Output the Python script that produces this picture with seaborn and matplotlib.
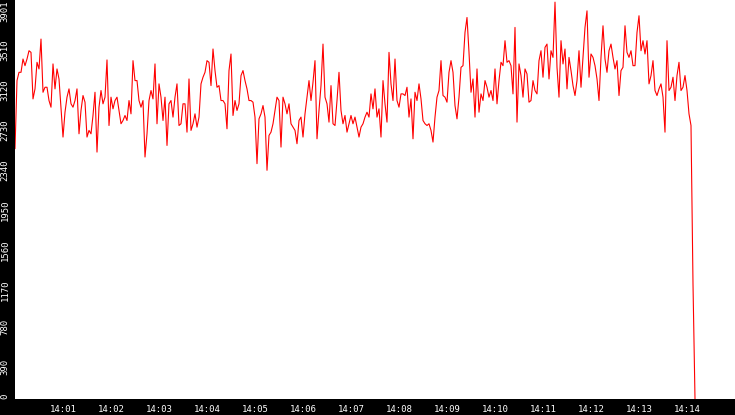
import numpy as np
import pandas as pd
import seaborn as sns
import matplotlib
matplotlib.use('Agg')
import matplotlib.pyplot as plt

sns.set_style('white')

# sampled values, one every 2.5 s starting 14:00:00
vals_a = [2447, 3113, 3194, 3194, 3324, 3259, 3324, 3405, 3389, 2934, 3032, 3292, 3227, 3519, 2999, 3048,
          3048, 2918, 2853, 3276, 3032, 3227, 3129, 2837, 2561, 2804, 2951, 3032, 2886, 2853, 2918, 3032,
          2593, 2821, 2967, 2902, 2561, 2626, 2593, 2772, 2999, 2414, 2853, 3016, 2886, 2951]
vals_b = [3315, 2674, 2951, 2837, 2918, 2951, 2821, 2691, 2723, 2772, 2723, 2918, 2788, 3308, 3113, 3113,
          2918, 2853, 2918, 2366, 2593, 2918, 3016, 2934, 3276, 2691, 3081, 2951, 2723, 2951, 2479, 2886,
          2918, 2756, 2951, 3081, 2674, 2691, 2886, 2886, 2609, 3129, 2626, 2691, 2788]
vals_c = [2658, 2756, 3081, 3146, 3194, 3308, 3292, 3064, 3422, 3211, 3048, 3064, 2918, 2918, 2886, 2642,
          3211, 3373, 2772, 2918, 2821, 2886, 3162, 3211, 3113, 3032, 2918, 2918, 2902, 2756, 2301, 2739,
          2788, 2869, 2756, 2236, 2577, 2609, 2691, 2821, 2951, 2918, 2463, 2951, 2886]
vals_d = [2788, 2886, 2691, 2658, 2626, 2496, 2723, 2756, 2561, 2788, 2951, 3113, 2918, 3097, 3308, 2544,
          2821, 3064, 3470, 2951, 2886, 2707, 3064, 2691, 2674, 2918, 3194, 2821, 2691, 2772, 2609, 2691,
          2772, 2691, 2756, 2658, 2561, 2658, 2691, 2756, 2804, 2756, 2983, 2837, 3032]
vals_e = [2756, 2837, 2561, 3113, 2886, 2707, 3389, 3081, 2918, 3324, 2918, 2853, 2983, 2983, 2967, 3048,
          2756, 2934, 2544, 2999, 2918, 3081, 2934, 2723, 2691, 2674, 2691, 2626, 2512, 2756, 2951, 3016,
          3308, 2967, 2951, 2902, 3194, 3308, 3194, 2869, 2739, 2951, 3243, 3259, 3584]
vals_f = [3730, 3389, 2999, 3129, 2756, 3227, 2804, 2983, 2918, 3113, 3048, 2951, 3016, 2918, 3227, 2886,
          3113, 3292, 3259, 3503, 3292, 3308, 3259, 2983, 3633, 2707, 3276, 3162, 2951, 3227, 3178, 2902,
          2918, 3113, 3016, 2983, 3308, 3405, 3146, 3438, 3470, 3129, 3405, 3340, 3880]
vals_g = [3243, 2951, 3503, 3276, 3422, 3032, 3340, 3211, 3064, 2967, 3113, 3405, 3048, 3340, 3633, 3795,
          3146, 3373, 3340, 3259, 3129, 2918, 3340, 3649, 3324, 3194, 3405, 3470, 3340, 3227, 3308, 2967,
          3211, 3243, 3649, 3389, 3340, 3405, 3259, 3259, 3584, 3747, 3405, 3503, 3373]
vals_h = [3503, 3081, 3162, 3308, 3016, 2967, 3032, 3081, 2951, 2609, 3503, 3016, 3048, 3146, 2918, 3162,
          3292, 3016, 3048, 3162, 3016, 2788, 2674, 1125, 0]

y_ticks = [0, 390, 780, 1170, 1560, 1950, 2340, 2730, 3120, 3510, 3901]
x_tick_labels = ['14:01', '14:02', '14:03', '14:04', '14:05', '14:06', '14:07',
                 '14:08', '14:09', '14:10', '14:11', '14:12', '14:13', '14:14']

values = vals_a + vals_b + vals_c + vals_d + vals_e + vals_f + vals_g + vals_h
start = pd.Timestamp('2024-01-01 14:00:00')
df = pd.DataFrame({
    'time': start + pd.to_timedelta(np.arange(len(values)) * 2.5, unit='s'),
    'value': values,
})

fig = plt.figure(figsize=(7.35, 4.15), dpi=100, facecolor='black')
ax = fig.add_axes([15 / 735, 16 / 415, 720 / 735, 399 / 415])
ax.set_facecolor('white')

sns.lineplot(data=df, x='time', y='value', color='red', linewidth=0.8,
             estimator=None, ax=ax)

ax.set_xlim(start, start + pd.Timedelta(minutes=15))
ax.set_ylim(0, 3901)
ax.set_xticks([start + pd.Timedelta(minutes=i + 1) for i in range(len(x_tick_labels))])
ax.set_xticklabels(x_tick_labels)
ax.set_yticks(y_ticks)
ax.set_yticklabels([str(t) for t in y_ticks], rotation=90)
ax.set_xlabel('')
ax.set_ylabel('')

for s in ax.spines.values():
    s.set_visible(False)
ax.tick_params(axis='both', colors='white', length=4, width=1, direction='out',
               labelsize=6.5, pad=0)
for i, lab in enumerate(ax.get_yticklabels()):
    lab.set_va('bottom' if i == 0 else 'top')
for lab in ax.get_xticklabels() + ax.get_yticklabels():
    lab.set_family('DejaVu Sans Mono')
    lab.set_color('white')

fig.savefig('out.png', dpi=100, facecolor='black')
